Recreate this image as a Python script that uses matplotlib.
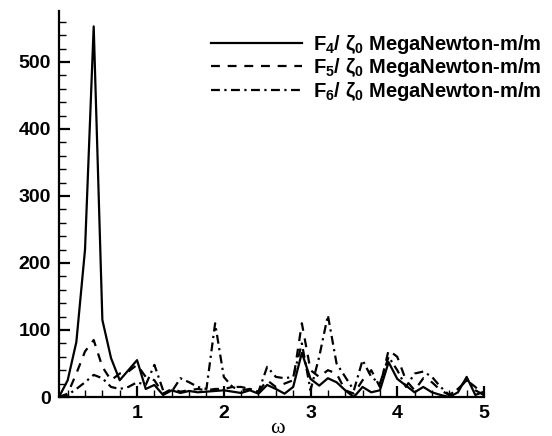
import numpy as np
import matplotlib
matplotlib.use('Agg')
import matplotlib.pyplot as plt
from matplotlib.ticker import MultipleLocator

###########################################
# Data
###########################################

omega = np.round(np.arange(1, 51) * 0.1, 1)  # 0.1 ... 5.0

F4 = [0, 25, 82, 220, 553, 115, 58, 25, 40, 55,
      12, 18, 3, 10, 6, 9, 7, 8, 9, 10,
      8, 6, 10, 5, 18, 12, 5, 15, 66, 27,
      17, 28, 22, 10, 0, 15, 7, 10, 52, 27,
      17, 7, 15, 7, 3, 0, 7, 30, 3, 8]

F5 = [0, 5, 35, 68, 85, 45, 25, 35, 38, 48,
      30, 25, 5, 12, 8, 10, 12, 10, 12, 12,
      15, 10, 12, 8, 25, 15, 20, 25, 110, 40,
      30, 40, 35, 10, 5, 25, 40, 15, 70, 60,
      25, 10, 28, 22, 10, 3, 12, 25, 15, 2]

F6 = [0, 3, 12, 22, 33, 28, 15, 12, 15, 22,
      18, 48, 10, 8, 28, 22, 15, 12, 110, 30,
      15, 15, 12, 8, 45, 30, 28, 30, 80, 10,
      60, 122, 50, 30, 10, 55, 30, 20, 60, 40,
      15, 35, 38, 30, 15, 3, 12, 25, 10, 3]

labels = [r'F$_4$/ $\zeta_0$ MegaNewton-m/m',
          r'F$_5$/ $\zeta_0$ MegaNewton-m/m',
          r'F$_6$/ $\zeta_0$ MegaNewton-m/m']

###########################################
# Style
###########################################

plt.rcParams['font.family'] = 'Liberation Sans'
plt.rcParams['font.weight'] = 'bold'
plt.rcParams['mathtext.fontset'] = 'custom'
plt.rcParams['mathtext.rm'] = 'Liberation Sans:bold'
plt.rcParams['mathtext.bf'] = 'Liberation Sans:bold'
plt.rcParams['mathtext.it'] = 'Liberation Sans'

fig = plt.figure(figsize=(5.52, 4.36), dpi=100)
ax = fig.add_axes([59/552, 1-397/436, (484-59)/552, (397-11)/436])

ax.plot(omega, F4, color='black', lw=1.6, label=labels[0])
ax.plot(omega, F5, color='black', lw=1.6, dashes=(4, 3.5), label=labels[1])
ax.plot(omega, F6, color='black', lw=1.6, dashes=(4, 2, 1, 2), label=labels[2])

ax.set_xlim(0.1, 5)
ax.set_ylim(0, 576)

for s in ['top', 'right']:
    ax.spines[s].set_visible(False)
for s in ['left', 'bottom']:
    ax.spines[s].set_linewidth(1.6)

ax.xaxis.set_major_locator(MultipleLocator(1))
ax.xaxis.set_minor_locator(MultipleLocator(0.2))
ax.yaxis.set_major_locator(MultipleLocator(100))
ax.yaxis.set_minor_locator(MultipleLocator(20))
ax.tick_params(which='major', direction='in', length=8, width=1.6,
               labelsize=14, pad=6)
ax.tick_params(which='minor', direction='in', length=5, width=1.0)
ax.tick_params(top=False, right=False, which='both')
for t in ax.get_xticklabels() + ax.get_yticklabels():
    t.set_fontweight('bold')

fig.text(277/552, 1-428/436, 'ω', ha='center', va='center',
         fontsize=16, fontweight='normal', family='Liberation Serif')

ax.legend(loc='upper right', bbox_to_anchor=(541/552, 1-33/436),
          bbox_transform=fig.transFigure, frameon=False, fontsize=14.5,
          handlelength=4.5, handletextpad=0.55, labelspacing=0.02,
          borderaxespad=0, borderpad=0)

plt.savefig('out.png', dpi=100)
